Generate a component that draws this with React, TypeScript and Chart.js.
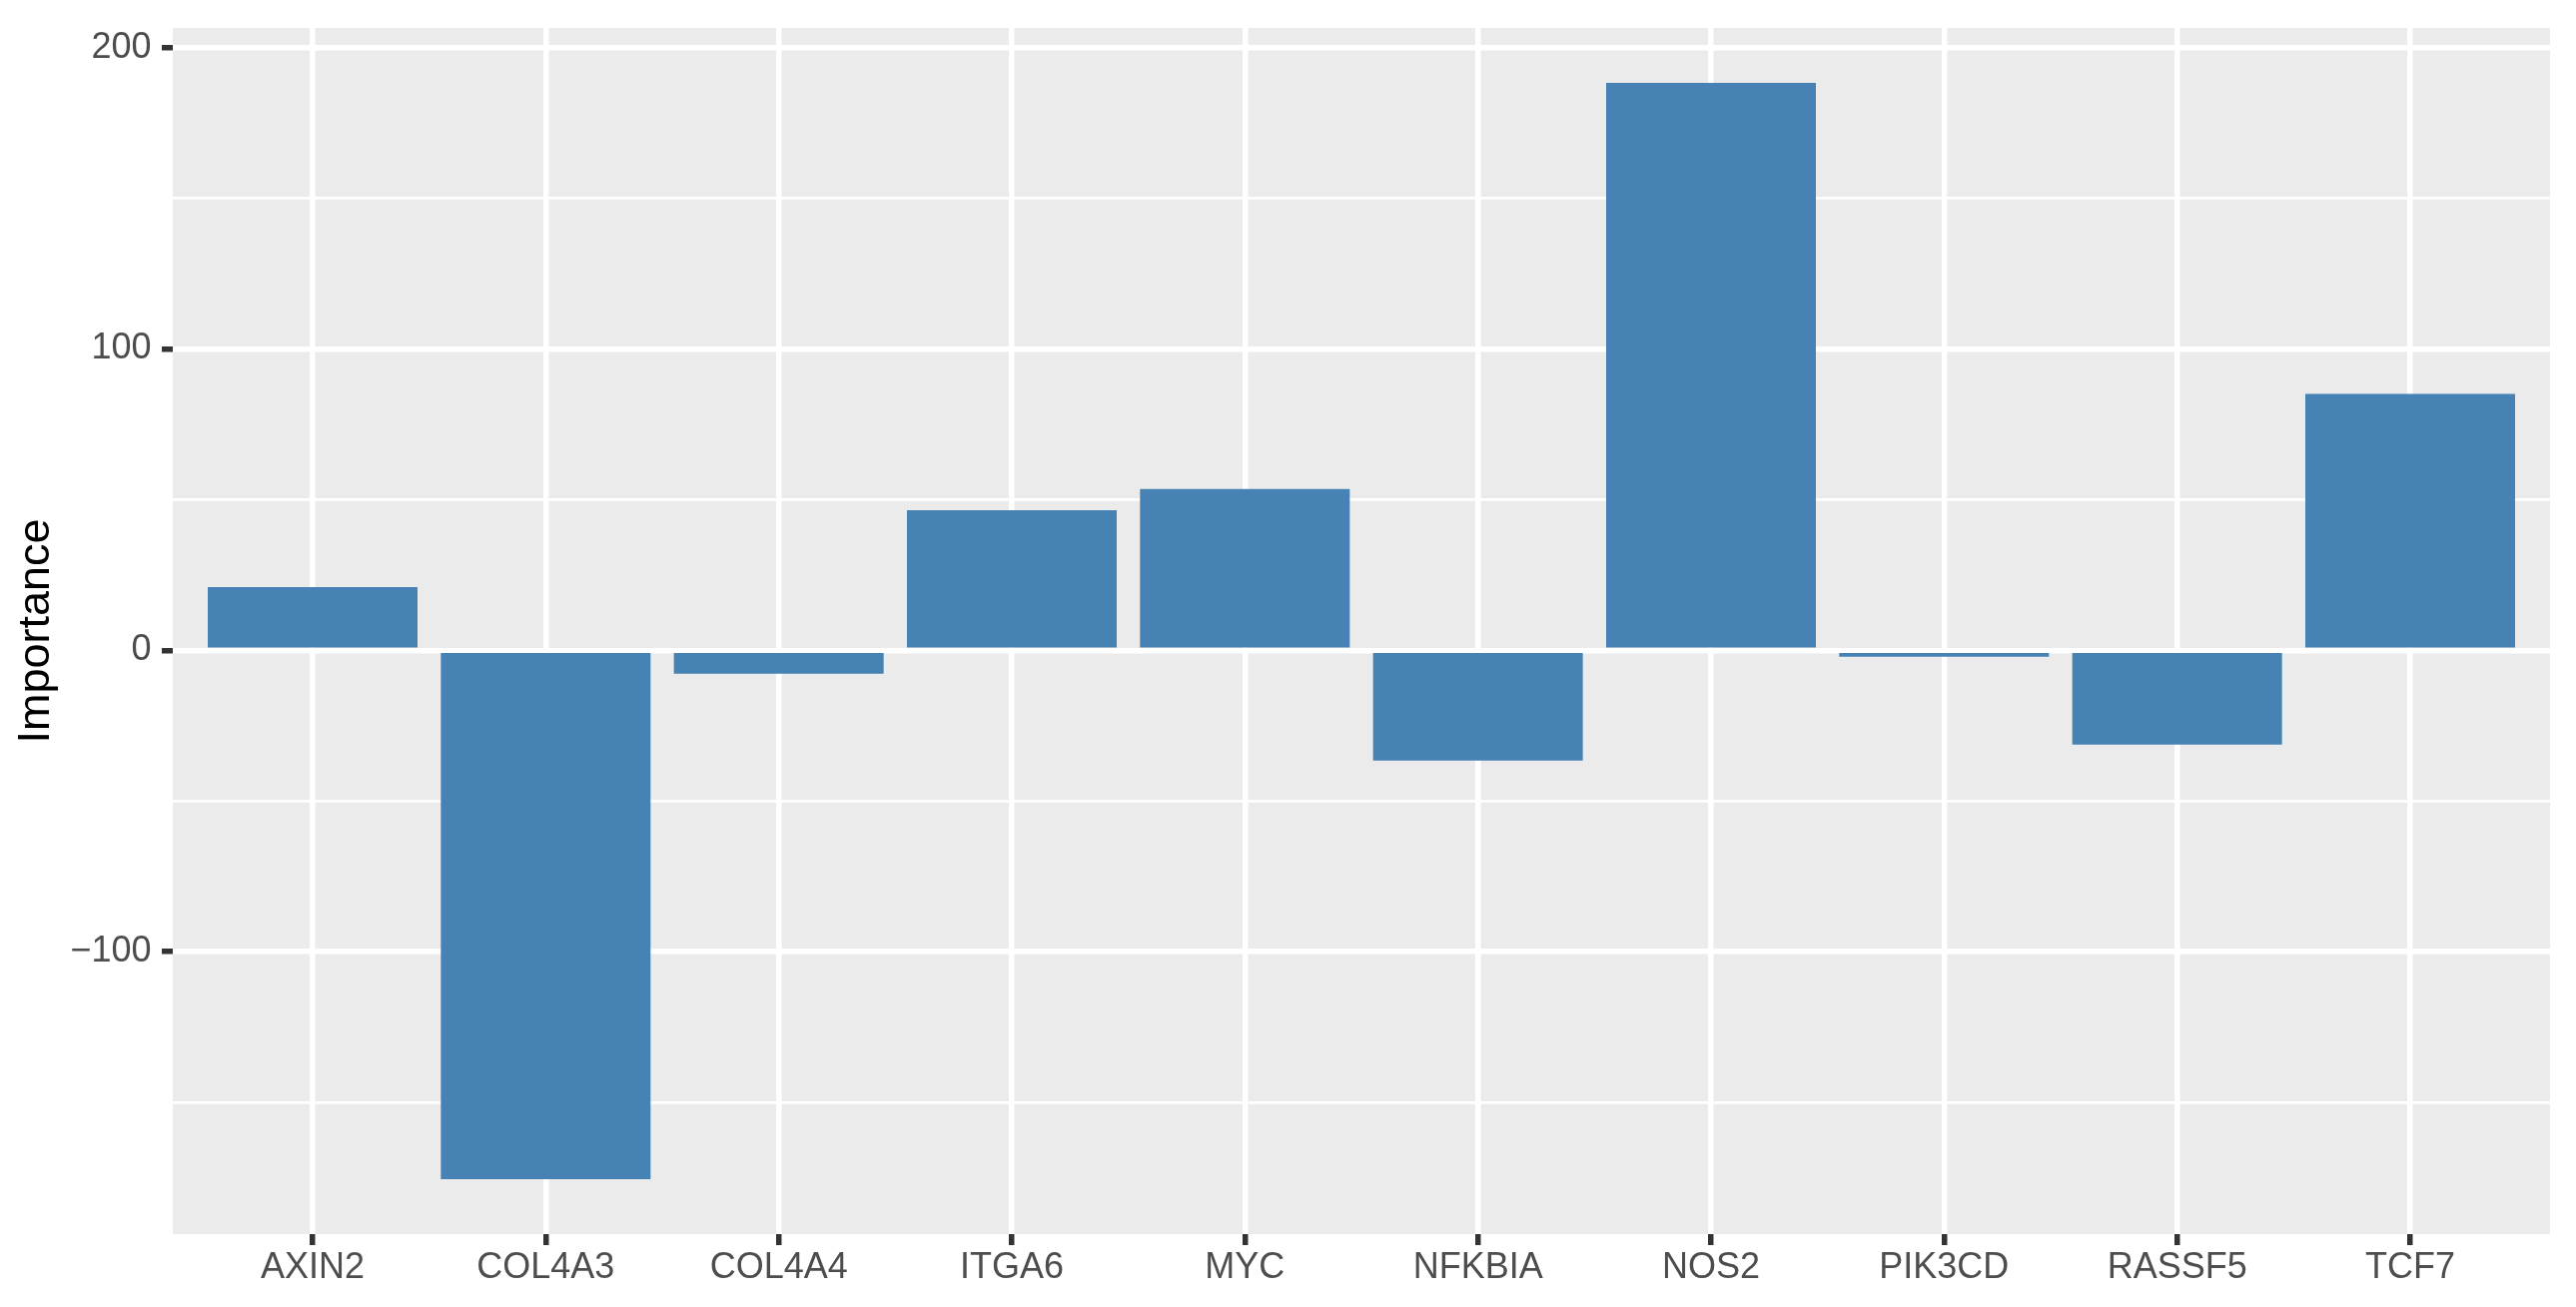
import React, { useEffect, useRef } from "react";
import { Chart, registerables } from "chart.js";

Chart.register(...registerables);

// ---- data ----
const categories = ["AXIN2", "COL4A3", "COL4A4", "ITGA6", "MYC", "NFKBIA", "NOS2", "PIK3CD", "RASSF5", "TCF7"];
const importance = [21.0, -175.5, -7.8, 46.5, 53.5, -36.6, 188.3, -2.1, -31.3, 85.1];
const yMajorTicks = [-100, 0, 100, 200];
const yMinorTicks = [-150, -50, 50, 150];
const yTickLabels = ["\u2212100", "0", "100", "200"];
const yTitle = "Importance";

const W = 2579;
const H = 1309;
const FONT = "'Liberation Sans', Arial, Helvetica, sans-serif";
const MAJOR_W = 5.5;
const MINOR_W = 2.8;

const panelBg = {
  id: "panelBg",
  beforeDraw(chart: any) {
    const { ctx, chartArea: a } = chart;
    ctx.save();
    ctx.fillStyle = "#EBEBEB";
    ctx.fillRect(a.left, a.top, a.right - a.left, a.bottom - a.top);
    ctx.restore();
  },
};

export default function App() {
  const ref = useRef<HTMLCanvasElement | null>(null);

  useEffect(() => {
    if (!ref.current) return;
    const lo = Math.min(0, ...importance);
    const hi = Math.max(0, ...importance);
    const pad = (hi - lo) * 0.05;
    const isMajor = (v: number) => yMajorTicks.indexOf(v) >= 0;

    const chart = new Chart(ref.current, {
      type: "bar",
      data: {
        datasets: [
          {
            data: importance.map((v, i) => ({ x: i, y: v })),
            backgroundColor: "#4682B4",
            borderWidth: 0,
            barPercentage: 0.9,
            categoryPercentage: 1.0,
          },
        ],
      },
      plugins: [panelBg],
      options: {
        animation: false,
        responsive: false,
        devicePixelRatio: 1,
        layout: { padding: { left: 0, right: 26, top: 28, bottom: 0 } },
        plugins: { legend: { display: false }, tooltip: { enabled: false } },
        scales: {
          x: {
            type: "linear",
            offset: false,
            min: -0.6,
            max: categories.length - 1 + 0.6,
            afterBuildTicks: (axis: any) => {
              axis.ticks = categories.map((_, i) => ({ value: i }));
            },
            afterFit: (axis: any) => {
              axis.height = 73;
              axis.paddingLeft = 0;
              axis.paddingRight = 0;
            },
            border: { display: false },
            grid: {
              offset: false,
              color: "#FFFFFF",
              lineWidth: MAJOR_W,
              tickColor: "#333333",
              tickWidth: MAJOR_W,
              tickLength: 11,
              drawTicks: true,
            },
            ticks: {
              autoSkip: false,
              maxRotation: 0,
              minRotation: 0,
              padding: 1,
              color: "#4D4D4D",
              font: { family: FONT, size: 36 },
              callback: (value: any) => categories[Math.round(Number(value))] ?? "",
            },
          },
          y: {
            type: "linear",
            min: lo - pad,
            max: hi + pad,
            afterBuildTicks: (axis: any) => {
              axis.ticks = [...yMajorTicks, ...yMinorTicks]
                .sort((a, b) => a - b)
                .map((v) => ({ value: v }));
            },
            afterFit: (axis: any) => {
              axis.width = 173;
              axis.paddingTop = 0;
              axis.paddingBottom = 0;
            },
            border: { display: false },
            grid: {
              color: "#FFFFFF",
              lineWidth: (c: any) => (isMajor(c.tick?.value) ? MAJOR_W : MINOR_W),
              tickColor: (c: any) => (isMajor(c.tick?.value) ? "#333333" : "rgba(0,0,0,0)"),
              tickWidth: (c: any) => (isMajor(c.tick?.value) ? MAJOR_W : 0),
              tickLength: 11,
              drawTicks: true,
            },
            ticks: {
              autoSkip: false,
              padding: 10.5,
              color: "#4D4D4D",
              font: { family: FONT, size: 36 },
              callback: (value: any) => {
                const idx = yMajorTicks.indexOf(Number(value));
                return idx >= 0 ? yTickLabels[idx] : "";
              },
            },
            title: {
              display: true,
              text: yTitle,
              color: "#000000",
              font: { family: FONT, size: 45, lineHeight: 1 },
              padding: { top: 14, bottom: 0 },
            },
          },
        },
      },
    } as any);
    return () => chart.destroy();
  }, []);

  return (
    <div style={{ position: "absolute", left: 0, top: 0, width: W, height: H, background: "#FFFFFF" }}>
      <canvas ref={ref} width={W} height={H} style={{ display: "block", width: W, height: H }} />
    </div>
  );
}
